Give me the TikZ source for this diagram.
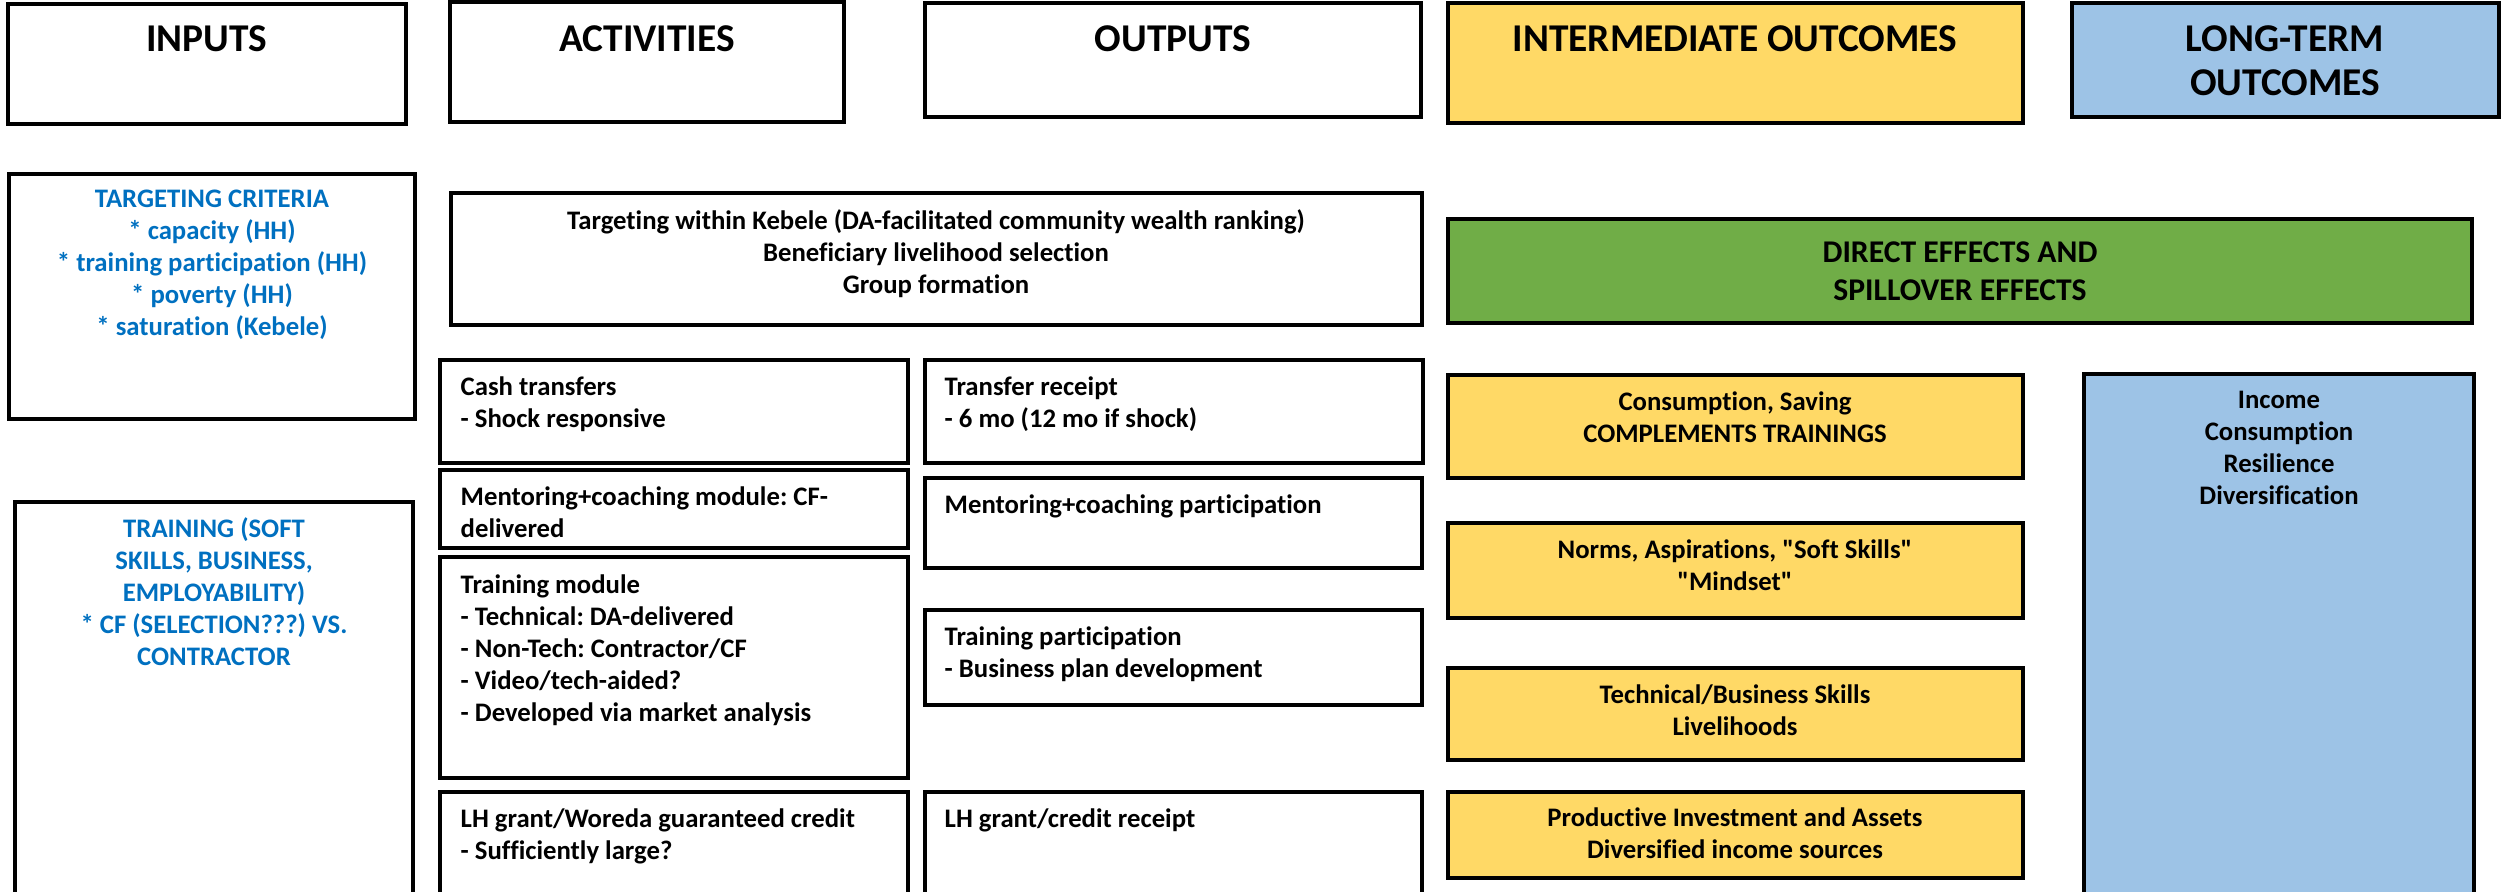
\documentclass[tikz,border=0pt]{standalone}
\usepackage{fontspec}
\setmainfont{Carlito}[Ligatures=NoCommon]
\frenchspacing
\usetikzlibrary{fit}
\definecolor{midyellow}{HTML}{FFD966}
\definecolor{ltblue}{HTML}{9DC3E6}
\definecolor{midgreen}{HTML}{70AD47}
\definecolor{txtblue}{HTML}{0070C0}
\tikzset{
  box/.style={draw, line width=0.9pt, inner sep=0pt},
  head/.style={font=\fontsize{11.2}{12.4}\selectfont\bfseries, align=center, inner sep=0pt, anchor=north},
  txt/.style={font=\fontsize{7.6}{9.1}\selectfont\bfseries, inner sep=0pt},
  ctxt/.style={txt, align=center, anchor=north},
  ltxt/.style={txt, align=left, anchor=north west},
}
\begin{document}
\begin{tikzpicture}[x=0.01cm,y=-0.01cm]
  \clip (0,0) rectangle (2504,892);
  % column headers
  \node[box, fit={(8,4) (406,124)}] (inputs) {};
  \node[box, fit={(450,2) (844,122)}] (activities) {};
  \node[box, fit={(925,3) (1421,117)}] (outputs) {};
  \node[box, fill=midyellow, fit={(1448,3) (2023,123)}] (inter) {};
  \node[box, fill=ltblue, fit={(2072,3) (2499,117)}] (longterm) {};
  \node[head] (inputsT) at (207,25) {INPUTS};
  \node[head] (activitiesT) at (647,25) {ACTIVITIES};
  \node[head] (outputsT) at (1173,25) {OUTPUTS};
  \node[head] (interT) at (1735,25) {INTERMEDIATE OUTCOMES};
  \node[head] (longtermT) at (2285,25) {LONG-TERM\\OUTCOMES};
  % inputs
  \node[box, fit={(9,174) (415,419)}] (crit) {};
  \node[box, fit={(15,502) (413,900)}] (train) {};
  \node[ctxt, text=txtblue] (critT) at (212,189) {TARGETING CRITERIA\\* capacity (HH)\\* training participation (HH)\\* poverty (HH)\\* saturation (Kebele)};
  \node[ctxt, text=txtblue] (trainT) at (214,517) {TRAINING (SOFT\\SKILLS, BUSINESS,\\EMPLOYABILITY)\\* CF (SELECTION???) VS.\\CONTRACTOR};
  % activities and outputs
  \node[box, fit={(451,193) (1422,325)}] (kebele) {};
  \node[ctxt] (kebeleT) at (936,209) {Targeting within Kebele (DA-facilitated community wealth ranking)\\Beneficiary livelihood selection\\Group formation};
  \node[box, fit={(440,360) (908,463)}] (cash) {};
  \node[box, fit={(440,470) (908,548)}] (mentor) {};
  \node[box, fit={(440,557) (908,778)}] (module) {};
  \node[box, fit={(440,792) (908,900)}] (grant) {};
  \node[box, fit={(925,360) (1423,463)}] (receipt) {};
  \node[box, fit={(925,478) (1422,568)}] (mentorP) {};
  \node[box, fit={(925,610) (1422,705)}] (trainP) {};
  \node[box, fit={(925,792) (1422,900)}] (grantR) {};
  \node[ltxt] (cashT) at (460,376) {Cash transfers\\- Shock responsive};
  \node[ltxt] (mentorT) at (460,486) {Mentoring+coaching module: CF-\\delivered};
  \node[ltxt] (moduleT) at (460,574) {Training module\\- Technical: DA-delivered\\- Non-Tech: Contractor/CF\\- Video/tech-aided?\\- Developed via market analysis};
  \node[ltxt] (grantT) at (460,808) {LH grant/Woreda guaranteed credit\\- Sufficiently large?};
  \node[ltxt] (receiptT) at (944,376) {Transfer receipt\\- 6 mo (12 mo if shock)};
  \node[ltxt] (mentorPT) at (944,494) {Mentoring+coaching participation};
  \node[ltxt] (trainPT) at (944,626) {Training participation\\- Business plan development};
  \node[ltxt] (grantRT) at (944,808) {LH grant/credit receipt};
  % outcomes
  \node[box, fill=midgreen, fit={(1448,219) (2472,323)}] (effects) {};
  \node[txt, font=\fontsize{9}{10.8}\selectfont\bfseries, align=center] (effectsT) at (effects) {DIRECT EFFECTS AND\\SPILLOVER EFFECTS};
  \node[box, fill=midyellow, fit={(1448,375) (2023,478)}] (consum) {};
  \node[box, fill=midyellow, fit={(1448,523) (2023,618)}] (norms) {};
  \node[box, fill=midyellow, fit={(1448,668) (2023,760)}] (skills) {};
  \node[box, fill=midyellow, fit={(1448,792) (2023,878)}] (invest) {};
  \node[box, fill=ltblue, fit={(2084,374) (2474,900)}] (final) {};
  \node[ctxt] (consumT) at (1735,391) {Consumption, Saving\\COMPLEMENTS TRAININGS};
  \node[ctxt] (normsT) at (1735,539) {Norms, Aspirations, \textquotedbl Soft Skills\textquotedbl\\\textquotedbl Mindset\textquotedbl};
  \node[ctxt] (skillsT) at (1735,684) {Technical/Business Skills\\Livelihoods};
  \node[ctxt] (investT) at (1735,807) {Productive Investment and Assets\\Diversified income sources};
  \node[ctxt] (finalT) at (2279,390) {Income\\Consumption\\Resilience\\Diversification};
\end{tikzpicture}
\end{document}
